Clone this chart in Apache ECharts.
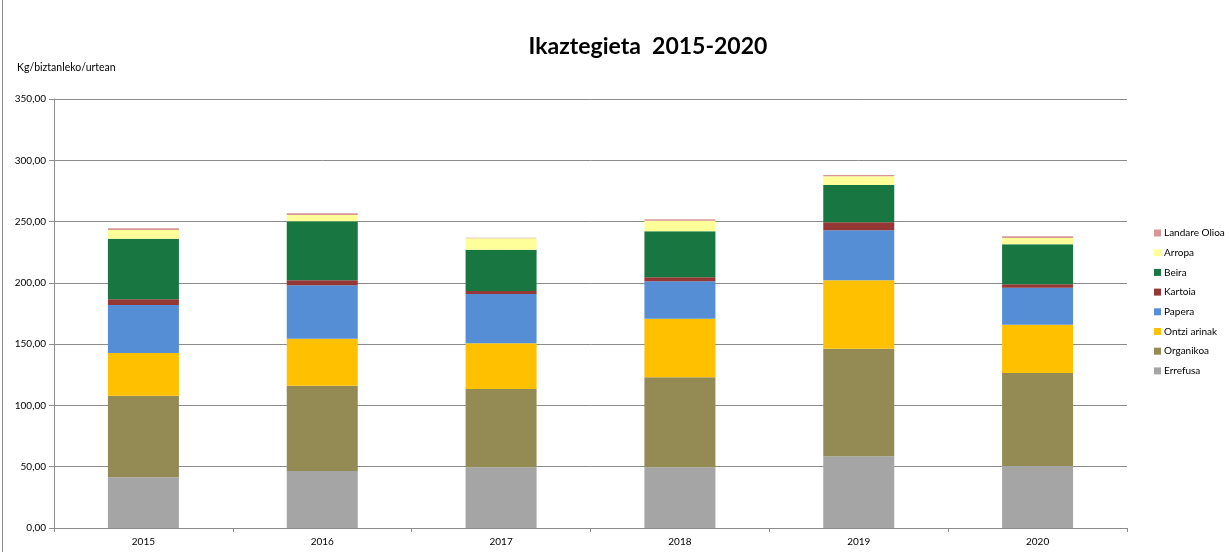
<!DOCTYPE html>
<html>
<head>
<meta charset="utf-8">
<script src="https://cdn.jsdelivr.net/npm/echarts@6/dist/echarts.min.js"></script>
<style>
html, body { margin: 0; padding: 0; background: #fff; }
#chartView { width: 1230px; height: 552px; }
</style>
</head>
<body>
<div id="chartView"></div>
<script>
var years = ['2015', '2016', '2017', '2018', '2019', '2020'];
var errefusa = [41.4, 46.5, 49.5, 49.5, 58.5, 50.6];
var organikoa = [66.5, 69.6, 63.9, 73.5, 87.8, 75.9];
var ontziArinak = [34.9, 38.3, 37.3, 47.8, 55.8, 39.4];
var papera = [39.1, 43.6, 40.2, 30.5, 40.8, 30.2];
var kartoia = [4.7, 4.1, 2.5, 3.2, 6.5, 2.7];
var beira = [49.4, 48.1, 33.7, 37.6, 30.4, 32.7];
var arropa = [7.1, 5.2, 9.3, 8.6, 7.1, 5.1];
var landareOlioa = [1.4, 1.3, 0.4, 1.1, 1.1, 1.4];

var seriesNames = ['Errefusa', 'Organikoa', 'Ontzi arinak', 'Papera', 'Kartoia', 'Beira', 'Arropa', 'Landare Olioa'];
var seriesData = [errefusa, organikoa, ontziArinak, papera, kartoia, beira, arropa, landareOlioa];
var colors = ['#A5A5A5', '#948A54', '#FFC000', '#558ED5', '#953735', '#187741', '#FFFF99', '#D99694'];

var fontName = 'Lato';
var chartView = echarts.init(document.getElementById('chartView'));

var series = [];
for (var i = 0; i < seriesNames.length; i++) {
	series.push({
		name: seriesNames[i],
		type: 'bar',
		stack: 'total',
		barWidth: 71,
		data: seriesData[i],
		itemStyle: { color: colors[i] }
	});
}

var ops = {
	animation: false,
	color: colors,
	textStyle: { fontFamily: fontName },
	title: {
		text: 'Ikaztegieta  2015-2020',
		left: 643,
		textAlign: 'center',
		top: 30,
		textStyle: {
			fontFamily: fontName,
			fontSize: 23,
			fontWeight: 'bold',
			color: '#000'
		}
	},
	grid: {
		left: 54,
		right: 103,
		top: 99,
		bottom: 24
	},
	legend: {
		orient: 'vertical',
		left: 1149,
		top: 223,
		itemWidth: 7,
		itemHeight: 7,
		itemGap: 9.7,
		icon: 'rect',
		data: seriesNames.slice().reverse(),
		textStyle: { fontFamily: fontName, fontSize: 10, color: '#000', padding: [0, 0, 0, -2] }
	},
	xAxis: {
		type: 'category',
		data: years,
		axisLine: { lineStyle: { color: '#8c8c8c', width: 1 } },
		axisTick: { show: true, length: 4, inside: false, lineStyle: { color: '#8c8c8c' } },
		axisLabel: { fontSize: 10, color: '#000', margin: 9, fontFamily: fontName }
	},
	yAxis: {
		type: 'value',
		min: 0,
		max: 350,
		interval: 50,
		name: 'Kg/biztanleko/urtean',
		nameLocation: 'end',
		nameGap: 0,
		nameTextStyle: {
			fontSize: 10.5,
			color: '#000',
			fontFamily: fontName,
			align: 'left',
			padding: [0, 0, 26, -37]
		},
		axisLine: { show: true, lineStyle: { color: '#8c8c8c', width: 1 } },
		axisTick: { show: true, length: 5, lineStyle: { color: '#8c8c8c' } },
		splitLine: { show: true, lineStyle: { color: '#8c8c8c', width: 1 } },
		axisLabel: {
			fontSize: 10,
			color: '#000',
			margin: 8,
			fontFamily: fontName,
			formatter: function (v) { return v.toFixed(2).replace('.', ','); }
		}
	},
	graphic: [{
		type: 'line',
		shape: { x1: 2.5, y1: 0, x2: 2.5, y2: 552 },
		style: { stroke: '#8c8c8c', lineWidth: 1 }
	}],
	series: series
};
chartView.setOption(ops);
</script>
</body>
</html>
